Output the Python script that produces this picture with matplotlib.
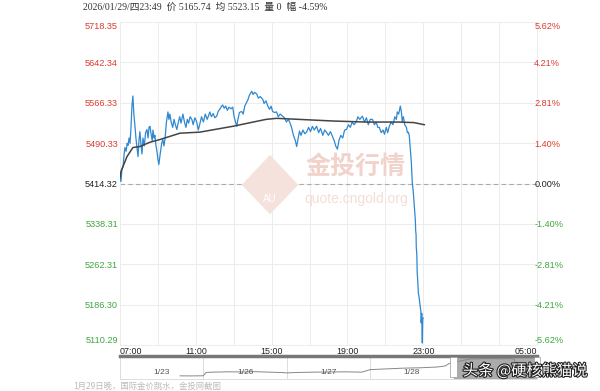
import matplotlib
matplotlib.use('Agg')
import matplotlib.pyplot as plt
import matplotlib.patheffects as pe
from matplotlib.patches import Polygon, Rectangle

plt.rcParams['font.family'] = ['Liberation Sans', 'Noto Sans CJK SC']

# horas desde las 07:00 / precio del oro
horas = [0.00, 0.05, 0.10, 0.16, 0.22, 0.26, 0.32, 0.38, 0.42, 0.48, 0.53, 0.58, 0.63, 0.68, 0.73,
         0.79, 0.84, 0.89, 0.95, 1.00, 1.05, 1.10, 1.16, 1.21, 1.28, 1.35, 1.42, 1.48, 1.53, 1.58,
         1.65, 1.70, 1.74, 1.80, 1.84, 1.90, 1.95, 2.00, 2.05, 2.12, 2.20, 2.26, 2.32, 2.38, 2.45,
         2.53, 2.58, 2.63, 2.70, 2.78, 2.85, 2.92, 3.00, 3.08, 3.15, 3.22, 3.32, 3.40, 3.48, 3.55,
         3.62, 3.70, 3.79, 3.86, 3.95, 4.05, 4.13, 4.21, 4.30, 4.40, 4.50, 4.60, 4.74, 4.82, 4.92,
         5.00, 5.10, 5.18, 5.28, 5.36, 5.42, 5.50, 5.58, 5.66, 5.75, 5.85, 5.95, 6.02, 6.10, 6.16,
         6.22, 6.30, 6.42, 6.50, 6.58, 6.68, 6.75, 6.82, 6.90, 6.95, 7.02, 7.10, 7.21, 7.30, 7.40,
         7.53, 7.60, 7.70, 7.80, 7.89, 7.97, 8.05, 8.15, 8.26, 8.35, 8.45, 8.58, 8.68, 8.78, 8.88,
         8.95, 9.05, 9.15, 9.25, 9.32, 9.40, 9.47, 9.55, 9.65, 9.75, 9.84, 9.95, 10.05, 10.15, 10.25,
         10.37, 10.48, 10.58, 10.70, 10.80, 10.89, 11.00, 11.10, 11.21, 11.30, 11.38, 11.47, 11.55,
         11.65, 11.75, 11.85, 11.95, 12.05, 12.15, 12.25, 12.35, 12.47, 12.55, 12.65, 12.79, 12.90,
         13.00, 13.10, 13.20, 13.32, 13.42, 13.52, 13.60, 13.68, 13.78, 13.88, 13.95, 14.05, 14.12,
         14.21, 14.30, 14.40, 14.50, 14.58, 14.63, 14.70, 14.79, 14.85, 14.89, 14.95, 15.02, 15.11,
         15.16, 15.21, 15.26, 15.32, 15.37, 15.42, 15.47, 15.53, 15.58, 15.60, 15.62, 15.63, 15.66,
         15.68, 15.71, 15.74, 15.78, 15.84, 15.87, 15.89, 15.92, 15.95, 15.97, 16.00]
precio = [5425, 5418, 5440, 5446, 5470, 5482, 5475, 5490, 5486, 5500, 5490, 5520, 5560, 5579, 5545,
          5522, 5500, 5484, 5465, 5495, 5512, 5490, 5470, 5500, 5485, 5510, 5516, 5500, 5520, 5522,
          5505, 5495, 5515, 5500, 5505, 5485, 5475, 5460, 5450, 5470, 5490, 5497, 5485, 5500, 5530,
          5549, 5535, 5545, 5530, 5520, 5535, 5525, 5516, 5530, 5540, 5528, 5545, 5530, 5520, 5535,
          5528, 5540, 5535, 5525, 5538, 5530, 5515, 5526, 5540, 5530, 5545, 5535, 5549, 5540, 5546,
          5538, 5541, 5550, 5555, 5560, 5562, 5556, 5560, 5552, 5558, 5555, 5558, 5540, 5530, 5522,
          5535, 5548, 5550, 5545, 5560, 5567, 5572, 5580, 5585, 5588, 5582, 5586, 5583, 5575, 5578,
          5573, 5565, 5570, 5560, 5554, 5560, 5550, 5548, 5549, 5540, 5545, 5541, 5538, 5530, 5535,
          5530, 5520, 5505, 5495, 5484, 5500, 5513, 5505, 5515, 5508, 5511, 5520, 5512, 5522, 5515,
          5522, 5510, 5518, 5505, 5515, 5511, 5505, 5512, 5503, 5495, 5485, 5479, 5495,
          5505, 5500, 5515, 5516, 5525, 5520, 5530, 5525, 5531, 5540, 5535, 5541, 5530,
          5538, 5525, 5535, 5535, 5525, 5530, 5520, 5520, 5510, 5515, 5507, 5520, 5510,
          5522, 5530, 5525, 5540, 5535, 5549, 5545, 5560, 5548, 5531, 5540, 5525, 5520,
          5510, 5511, 5505, 5478, 5454, 5416, 5400, 5371, 5346, 5325, 5318, 5295, 5280,
          5246, 5230, 5208, 5200, 5182, 5175, 5152, 5170, 5114, 5160, 5161]

# precio medio
horas_media = [0.00, 0.05, 0.37, 0.68, 1.05, 1.58, 2.10, 2.63, 3.16, 4.21, 5.95, 7.70, 8.26,
               9.47, 11.21, 13.00, 14.70, 15.50, 16.05]
media = [5425, 5437, 5465, 5482, 5484, 5492, 5497, 5503, 5509, 5511, 5522, 5535, 5537,
         5535, 5532, 5530, 5530, 5529, 5525]

base = 5414.32
niveles = [5110.29, 5186.30, 5262.31, 5338.31, 5414.32, 5490.33, 5566.33, 5642.34, 5718.35]
porcentajes = ['-5.62%', '-4.21%', '-2.81%', '-1.40%', '0.00%', '1.40%', '2.81%', '4.21%', '5.62%']
pos_x = [0, 4, 8, 12, 16, 22]
etiquetas_x = ['07:00', '11:00', '15:00', '19:00', '23:00', '05:00']

# navegador (dias)
nav_fechas = ['1/23', '1/26', '1/27', '1/28']
nav_dias = [0.72, 0.85, 1.00, 1.03, 1.10, 1.30, 1.50, 1.60, 1.80, 1.95, 2.00, 2.10, 2.30, 2.50,
            2.70, 2.90, 3.00, 3.20, 3.40, 3.60, 3.80, 3.90, 3.95, 4.00, 4.05, 4.20, 4.40, 4.60,
            4.70, 4.73, 4.75, 4.80]
nav_precio = [5060, 5058, 5062, 5150, 5160, 5170, 5165, 5175, 5160, 5150, 5140, 5150, 5160, 5165,
              5170, 5160, 5230, 5250, 5270, 5280, 5300, 5330, 5400, 5440, 5450, 5520, 5530, 5525,
              5530, 5500, 5180, 5165]

rojo = '#dc3b2f'
verde = '#3fa63f'
colores = [verde] * 4 + ['#222222'] + [rojo] * 4

fig = plt.figure(figsize=(6, 3.91), dpi=100)
ax = fig.add_axes([120 / 600, 46 / 391, 417 / 600, 323 / 391])

# marca de agua
fig.patches.append(Polygon([[0.45, 0.604], [0.497, 0.527], [0.45, 0.452], [0.403, 0.527]],
                           closed=True, transform=fig.transFigure, facecolor='#f6e2dd',
                           edgecolor='none', zorder=0))
fig.text(0.45, 0.49, 'AU', color='white', fontsize=7, ha='center', va='center', zorder=1)
fig.text(0.593, 0.573, '金投行情', color='#f2d3cb', fontsize=18, ha='center', va='center',
         fontweight='bold', family=['Noto Sans CJK SC'], zorder=1)
fig.text(0.593, 0.49, 'quote.cngold.org', color='#f4ddd7', fontsize=10, ha='center', va='center', zorder=1)

ax.set_facecolor('none')
ax.plot(horas, precio, color='#2f88d0', lw=0.9, zorder=3)
ax.plot(horas_media, media, color='#444444', lw=1.1, zorder=4)
ax.axhline(base, color='#aaaaaa', lw=0.8, ls=(0, (4, 3)), zorder=2)

ax.set_xlim(0, 22)
ax.set_ylim(niveles[0], niveles[-1])
ax.set_xticks(range(0, 23, 2), minor=False)
ax.set_yticks(niveles)
ax.grid(True, color='#ececec', lw=0.7)
ax.set_xticklabels([])
for s in ax.spines.values():
    s.set_color('#ececec')
    s.set_linewidth(0.7)
ax.tick_params(axis='both', length=0)

ax.set_yticklabels([f'{v:.2f}' for v in niveles], fontsize=6.6)
ax.tick_params(axis='y', pad=1.5)
for lbl, c in zip(ax.get_yticklabels(), colores):
    lbl.set_color(c)
ax.get_yticklabels()[0].set_va('bottom')
ax.get_yticklabels()[-1].set_va('top')

ax2 = ax.twinx()
ax2.set_ylim(niveles[0], niveles[-1])
ax2.set_yticks(niveles)
ax2.set_yticklabels(porcentajes, fontsize=6.6)
ax2.tick_params(axis='y', length=0, pad=-2)
for s in ax2.spines.values():
    s.set_visible(False)
for lbl, c in zip(ax2.get_yticklabels(), colores):
    lbl.set_color(c)
ax2.get_yticklabels()[0].set_va('bottom')
ax2.get_yticklabels()[-1].set_va('top')

for x, t in zip(pos_x, etiquetas_x):
    ha = 'left' if x == 0 else ('right' if x == 22 else 'center')
    ax.text(x, -0.005, t, transform=ax.get_xaxis_transform(), ha=ha, va='top',
            fontsize=6.4, color='#222222')

# navegador
axn = fig.add_axes([120 / 600, 12 / 391, 417 / 600, 23 / 391])
axn.set_xlim(0, 5)
axn.set_ylim(4974, 5601)
axn.axvspan(4, 5, color='#ababab', zorder=1)
axn.plot(nav_dias, nav_precio, color='#888888', lw=0.7, zorder=2)
for d in range(1, 5):
    axn.axvline(d, color='#dddddd', lw=0.7, zorder=0)
for i, f in enumerate(nav_fechas):
    axn.text(i + 0.5, 0.3, f, transform=axn.get_xaxis_transform(), ha='center', va='center',
             fontsize=6, color='#555555')
for d in (4, 5):
    axn.add_patch(Rectangle((d - 0.04, 0.1), 0.08, 0.85, transform=axn.get_xaxis_transform(),
                            facecolor='white', edgecolor='#999999', lw=0.5, zorder=3, clip_on=False))
axn.set_xticks([])
axn.set_yticks([])
for s in axn.spines.values():
    s.set_color('#dddddd')
    s.set_linewidth(0.7)
axn.spines['top'].set_color('#777777')
axn.spines['top'].set_linewidth(2.5)

# textos
fig.text(83 / 600, 1 - 7 / 391, '2026/01/29/四23:49  价 5165.74  均 5523.15  量 0  幅 -4.59%',
         fontsize=7, color='#333333', ha='left', va='center',
         family=['Liberation Serif', 'Noto Sans CJK SC'])
fig.text(73 / 600, 1 - 386 / 391, '1月29日晚，国际金价跳水，金投网截图', fontsize=6,
         color='#bbbbbb', ha='left', va='center', family=['Noto Sans CJK SC'])
fig.text(525 / 600, 1 - 371 / 391, '头条 @硬核熊猫说', fontsize=11, color='white',
         ha='center', va='center', family=['Noto Sans CJK SC', 'DejaVu Sans'], zorder=10,
         path_effects=[pe.withStroke(linewidth=1.6, foreground='#222222')])

fig.savefig('out.png', dpi=100, facecolor='white')
